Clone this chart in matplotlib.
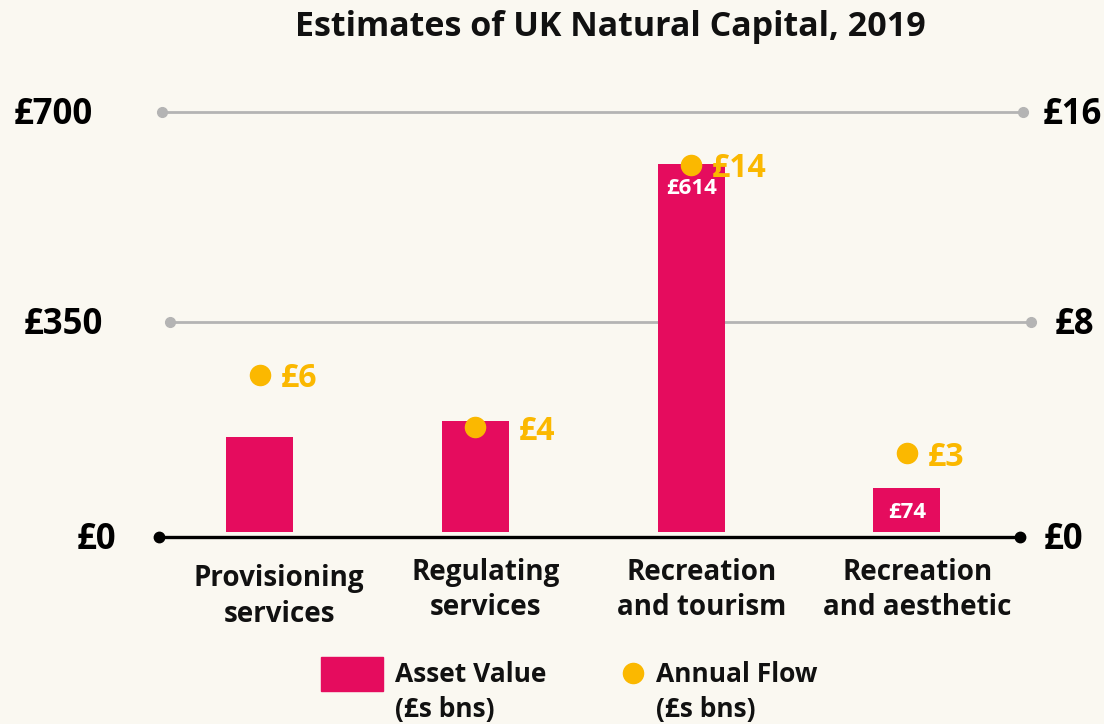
#
# Libraries
#
import matplotlib
matplotlib.use("Agg")
import matplotlib.pyplot as plt
import matplotlib.transforms as mtransforms
from matplotlib.patches import Rectangle

#
# Data (£ billions)
#
categories = ["Provisioning\nservices", "Regulating\nservices",
              "Recreation\nand tourism", "Recreation\nand aesthetic"]
asset_value = [158, 186, 614, 74]
annual_flow = [6, 4, 14, 3]
asset_labels = ["", "", "£614", "£74"]
flow_labels = ["£6", "£4", "£14", "£3"]
left_ticks = [0, 350, 700]
left_tick_labels = ["£0", "£350", "£700"]
right_ticks = [0, 8, 16]
right_tick_labels = ["£0", "£8", "£16"]

#
# Style
#
pink = '#e50c5e'
amber = '#fbb800'
grey = '#b4b4b4'
fondo = '#faf8f1'
plt.rcParams['font.family'] = ['Open Sans', 'DejaVu Sans']
plt.rcParams['font.weight'] = 'bold'

W, H = 1104, 724
fig = plt.figure(figsize=(W / 100, H / 100), dpi=100, facecolor=fondo)
ax = fig.add_axes([159 / W, (H - 537) / H, 861 / W, 425 / H])
ax.set_facecolor(fondo)
ax2 = ax.twinx()

ymin, ymax = -8, 700
ax.set_ylim(ymin, ymax)
ax2.set_ylim(ymin / ymax * 16, 16)
ax.set_xlim(-0.466, 3.524)

for a in (ax, ax2):
    for s in ['top', 'left', 'right', 'bottom']:
        a.spines[s].set_visible(False)
    a.set_yticks([])

#
# Gridlines with dotted ends
#
blend = mtransforms.blended_transform_factory(ax.transAxes, ax.transData)
blend2 = mtransforms.blended_transform_factory(ax2.transAxes, ax2.transData)
for v, shift in zip(left_ticks[1:], [0.0128, 0.0035]):
    ax.plot([shift, 1 + shift], [v, v], '-o', color=grey, lw=2, ms=7,
            transform=blend, clip_on=False, zorder=1)

# baseline
ax.plot([0, 1], [0, 0], '-o', color='black', lw=2.4, ms=7.5,
        transform=ax.transAxes, clip_on=False, zorder=4)

#
# Bars and dots
#
x = list(range(len(categories)))
bars = ax.bar(x, asset_value, width=0.31, color=pink, zorder=2)
for b, lab in zip(bars, asset_labels):
    if lab:
        ax.annotate(lab, (b.get_x() + b.get_width() / 2, b.get_height()),
                    xytext=(0, -18), textcoords='offset points',
                    ha='center', va='center', color='white', fontsize=16,
                    fontweight='bold', zorder=3)

ax2.scatter(x, annual_flow, s=210, color=amber, zorder=5, clip_on=False)
for xi, v, lab in zip(x, annual_flow, flow_labels):
    # the £4 label sits clear of the bar edge
    dx = 31 if xi == 1 else 15
    ax2.annotate(lab, (xi, v), xytext=(dx, -3), textcoords='offset points',
                 ha='left', va='center', color=amber, fontsize=23,
                 fontweight='bold')

# category names, nudged a little right of the bars
for xi, cat in zip(x, categories):
    dx, drop = (14, 19.5) if xi == 0 else (7.5, 15)
    ax.annotate(cat, (xi, 0), xycoords=('data', 'axes fraction'),
                xytext=(dx, -drop), textcoords='offset points',
                ha='center', va='top', fontsize=20, fontweight='bold',
                linespacing=1.3, color='#111111')
ax.set_xticks([])

#
# Axis labels on both sides
#
tick_y = [ymin, 350, 700]
for v, lab, px in zip(tick_y, left_tick_labels, [116, 103, 93]):
    ax.annotate(lab, ((px - 159) / 861, v), xycoords=blend,
                xytext=(0, -2), textcoords='offset points', ha='right',
                va='center', fontsize=25, fontweight='bold', color='black')
for v, lab, px in zip([ymin / ymax * 16, 8, 16], right_tick_labels, [1044, 1055, 1043]):
    ax2.annotate(lab, ((px - 159) / 861, v), xycoords=blend2,
                 xytext=(0, -2), textcoords='offset points', ha='left',
                 va='center', fontsize=25, fontweight='bold', color='black')

#
# Title
#
fig.text(0.553, 1 - 27 / H, "Estimates of UK Natural Capital, 2019",
         ha='center', va='center', fontsize=24.5, fontweight='bold', color='#111111')

#
# Legend
#
fig.patches.append(Rectangle((321 / W, (H - 691) / H), 62 / W, 34 / H,
                             transform=fig.transFigure, color=pink))
fig.text(395 / W, (H - 692) / H, "Asset Value\n(£s bns)", ha='left', va='center',
         fontsize=19, fontweight='bold', linespacing=1.35, color='#111111')
fig.add_artist(plt.Line2D([633 / W], [(H - 673) / H], marker='o', ms=14.5,
                          color=amber, transform=fig.transFigure))
fig.text(656 / W, (H - 692) / H, "Annual Flow\n(£s bns)", ha='left', va='center',
         fontsize=19, fontweight='bold', linespacing=1.35, color='#111111')

plt.savefig('out.png', dpi=100, facecolor=fondo)
